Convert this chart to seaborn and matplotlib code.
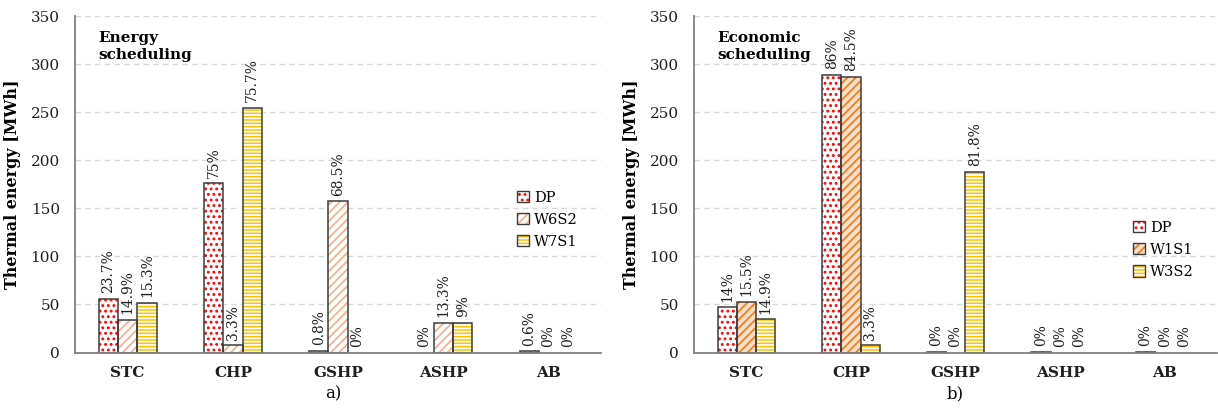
import matplotlib
matplotlib.use("Agg")
import matplotlib.pyplot as plt
from matplotlib.patches import Rectangle, Patch
import pandas as pd
import seaborn as sns

# Heat sources on the x axis
sources = ["STC", "CHP", "GSHP", "ASHP", "AB"]

# a) Energy scheduling: thermal energy per source [MWh] and share of each scenario's total
energy_scenarios = ["DP", "W6S2", "W7S1"]
energy_dp = [56.0, 176.0, 1.9, 0.0, 1.4]
energy_w6s2 = [34.3, 7.6, 157.6, 31.0, 0.0]
energy_w7s1 = [51.5, 255.0, 0.0, 31.0, 0.0]
energy_dp_pct = ["23.7%", "75%", "0.8%", "0%", "0.6%"]
energy_w6s2_pct = ["14.9%", "3.3%", "68.5%", "13.3%", "0%"]
energy_w7s1_pct = ["15.3%", "75.7%", "0%", "9%", "0%"]

# b) Economic scheduling
economic_scenarios = ["DP", "W1S1", "W3S2"]
economic_dp = [47.0, 289.0, 1.0, 0.9, 0.9]
economic_w1s1 = [53.0, 287.0, 0.0, 0.0, 0.0]
economic_w3s2 = [34.8, 7.6, 188.0, 0.0, 0.0]
economic_dp_pct = ["14%", "86%", "0%", "0%", "0%"]
economic_w1s1_pct = ["15.5%", "84.5%", "0%", "0%", "0%"]
economic_w3s2_pct = ["14.9%", "3.3%", "81.8%", "0%", "0%"]

# fill colour, hatch colour, hatch pattern per scenario
styles = {
    "DP": ("white", "#FF0000", "..."),
    "W6S2": ("white", "#F6B28E", "////"),
    "W1S1": ("#FCE0CA", "#F07F1E", "////"),
    "W7S1": ("#FFC000", "white", "-----"),
    "W3S2": ("#FFC000", "white", "-----"),
}

plt.rcParams["font.family"] = "DejaVu Serif"
plt.rcParams["hatch.linewidth"] = 1.3

OUTLINE = "#3C3C3C"


def draw_panel(ax, scenarios, values, labels, title, legend_anchor):
    df = pd.DataFrame({
        "source": sources * len(scenarios),
        "energy": [v for vals in values for v in vals],
        "scenario": [s for s in scenarios for _ in sources],
    })
    palette = {s: styles[s][0] for s in scenarios}
    sns.barplot(data=df, x="source", y="energy", hue="scenario", order=sources,
                hue_order=scenarios, palette=palette, saturation=1, width=0.55,
                errorbar=None, linewidth=0, legend=False, ax=ax, zorder=2)

    for container, scen, texts in zip(ax.containers, scenarios, labels):
        face, hcol, hatch = styles[scen]
        for bar, txt in zip(container, texts):
            bar.set_hatch(hatch)
            bar.set_edgecolor(hcol)
            bar.set_linewidth(0)
            if bar.get_height() > 0:
                ax.add_patch(Rectangle(bar.get_xy(), bar.get_width(), bar.get_height(),
                                       fill=False, ec=OUTLINE, lw=1.1, zorder=3))
            ax.annotate(txt, (bar.get_x() + bar.get_width() / 2, bar.get_height()),
                        xytext=(0, 4), textcoords="offset points", rotation=90,
                        ha="center", va="bottom", fontsize=10, color="#202020")

    ax.set_ylim(0, 350)
    ax.set_xlim(-0.5, len(sources) - 0.5)
    ax.set_yticks(range(0, 351, 50))
    ax.tick_params(axis="both", length=0, labelsize=11, colors="#202020")
    ax.tick_params(axis="y", pad=11)
    ax.tick_params(axis="x", pad=10)
    for lab in ax.get_xticklabels():
        lab.set_fontweight("bold")
    ax.set_xlabel("")
    ax.set_ylabel("Thermal energy [MWh]", fontsize=11.5, fontweight="bold", labelpad=7)
    ax.yaxis.grid(True, ls=(0, (4, 3)), color="#D9D9D9", lw=1)
    ax.set_axisbelow(True)
    for side in ("top", "right"):
        ax.spines[side].set_visible(False)
    for side in ("left", "bottom"):
        ax.spines[side].set_color("#808080")
        ax.spines[side].set_linewidth(1.3)
        ax.spines[side].set_zorder(4)

    ax.text(0.045, 0.955, title, transform=ax.transAxes, ha="left", va="top",
            fontsize=11, fontweight="bold", linespacing=1.25)

    handles = [Patch(facecolor=styles[s][0], edgecolor=styles[s][1], hatch=styles[s][2],
                     lw=0) for s in scenarios]
    frames = [Patch(facecolor="none", edgecolor=OUTLINE, lw=1.0) for _ in scenarios]
    ax.legend(list(zip(handles, frames)), scenarios, loc="center left",
              bbox_to_anchor=legend_anchor, frameon=False, fontsize=10.5,
              handlelength=0.8, handleheight=0.8, handletextpad=0.35,
              labelspacing=0.55)


fig = plt.figure(figsize=(12.18, 4.08), dpi=100)
ax1 = fig.add_axes([0.0616, 0.136, 0.432, 0.824])
ax2 = fig.add_axes([0.5698, 0.136, 0.4294, 0.824])

draw_panel(ax1, energy_scenarios, [energy_dp, energy_w6s2, energy_w7s1],
           [energy_dp_pct, energy_w6s2_pct, energy_w7s1_pct],
           "Energy\nscheduling", (0.815, 0.395))
draw_panel(ax2, economic_scenarios, [economic_dp, economic_w1s1, economic_w3s2],
           [economic_dp_pct, economic_w1s1_pct, economic_w3s2_pct],
           "Economic\nscheduling", (0.815, 0.305))

fig.text(0.274, 0.034, "a)", ha="center", va="center", fontsize=12)
fig.text(0.784, 0.034, "b)", ha="center", va="center", fontsize=12)

fig.savefig("out.png", dpi=100)
